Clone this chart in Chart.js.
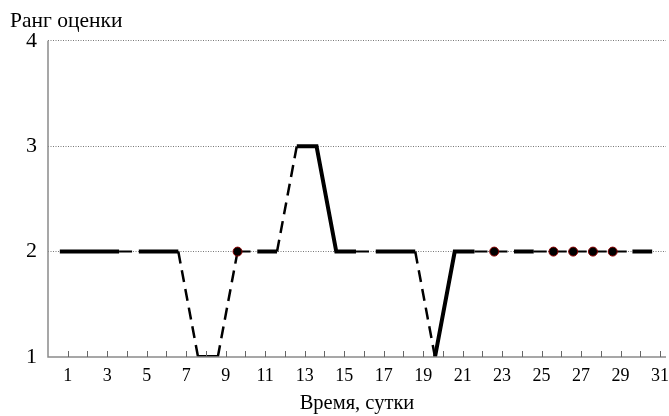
<!DOCTYPE html>
<html><head><meta charset="utf-8">
<script src="https://cdn.jsdelivr.net/npm/chart.js@4/dist/chart.umd.min.js"></script>
<style>html,body{margin:0;padding:0;background:#fff}#wrap{width:669px;height:416px}</style>
</head><body><div id="wrap"><canvas id="c" width="669" height="416"></canvas></div>
<script>
const days = [0.6,1.6,2.6,3.6,4.6,5.6,6.6,7.6,8.6,9.6,10.6,11.6,12.6,13.6,14.6,15.6,16.6,17.6,18.6,19.6,20.6,21.6,22.6,23.6,24.6,25.6,26.6,27.6,28.6,29.6,30.6];
const rank = [2,2,2,2,2,2,2,1,1,2,2,2,3,3,2,2,2,2,2,1,2,2,2,2,2,2,2,2,2,2,2];
// segment style between point i and i+1: S = thick solid, D = dashed, T = thin
const segStyle = ['S','S','S','T','S','S','D','S','D','T','S','D','S','S','S','T','S','S','D','S','S','T','T','S','T','T','T','T','T','S'];
const markedPoints = [9,22,25,26,27,28];
const yTicks = [1,2,3,4];
const xLabelDays = [1,3,5,7,9,11,13,15,17,19,21,23,25,27,29,31];
const yTitle = 'Ранг оценки';
const xTitle = 'Время, сутки';

const serif = '"Liberation Serif","Times New Roman",serif';
const pts = days.map((d,i)=>({x:d,y:rank[i]}));
const radii = days.map((d,i)=>markedPoints.includes(i)?4.5:0);

const axesPlugin = {
  id:'axesPlugin',
  afterDraw(chart){
    const {ctx, chartArea:a, scales:{x}} = chart;
    ctx.save();
    ctx.strokeStyle = '#8a8a8a';
    ctx.lineWidth = 1.5;
    ctx.beginPath();
    ctx.moveTo(a.left, a.top); ctx.lineTo(a.left, a.bottom); ctx.lineTo(a.right, a.bottom);
    ctx.stroke();
    ctx.lineWidth = 1;
    ctx.strokeStyle = '#666';
    for (let d=1; d<=31; d++){
      const px = Math.round(x.getPixelForValue(d))+0.5;
      ctx.beginPath(); ctx.moveTo(px, a.bottom); ctx.lineTo(px, a.bottom-6); ctx.stroke();
    }
    ctx.restore();
  }
};

new Chart(document.getElementById('c'), {
  type:'line',
  data:{datasets:[{
    data:pts,
    borderColor:'#000',
    borderWidth:4,
    pointRadius:radii,
    pointHoverRadius:radii,
    pointBackgroundColor:'#000',
    pointBorderColor:'#8b0000',
    pointBorderWidth:1,
    tension:0,
    segment:{
      borderWidth: c => segStyle[c.p0DataIndex]==='S'?4:(segStyle[c.p0DataIndex]==='D'?2.5:2),
      borderDash: c => segStyle[c.p0DataIndex]==='D'?[12,7]:(segStyle[c.p0DataIndex]==='T'?[13,7]:[])
    }
  }]},
  options:{
    responsive:false, animation:false,
    layout:{padding:{left:10,right:3,top:0,bottom:0}},
    plugins:{
      legend:{display:false}, tooltip:{enabled:false},
      title:{display:true,text:yTitle,align:'start',color:'#000',
        font:{family:serif,size:21.5,weight:'normal'},padding:{top:8,bottom:7}}
    },
    scales:{
      x:{type:'linear',min:0,max:31.3,
        grid:{display:false,drawTicks:false},
        border:{display:false},
        afterFit(s){s.height=59;s.paddingLeft=0;s.paddingRight=0;},
        afterBuildTicks(s){s.ticks = xLabelDays.map(v=>({value:v}));},
        ticks:{autoSkip:false,maxRotation:0,padding:8,color:'#000',
          font:{family:serif,size:18},callback:v=>String(v)},
        title:{display:true,text:xTitle,color:'#000',font:{family:serif,size:20.5},padding:{top:0,bottom:0}}
      },
      y:{min:1,max:4,
        afterFit(s){s.width=38;s.paddingTop=0;s.paddingBottom=0;},
        afterBuildTicks(s){s.ticks = yTicks.map(v=>({value:v}));},
        grid:{drawTicks:false,color:c=>c.tick&&c.tick.value===1?'rgba(0,0,0,0)':'#555',lineWidth:0.8},
        border:{display:false,dash:[1,1.5]},
        ticks:{padding:11,color:'#000',font:{family:serif,size:22}}
      }
    }
  },
  plugins:[axesPlugin]
});
</script></body></html>
